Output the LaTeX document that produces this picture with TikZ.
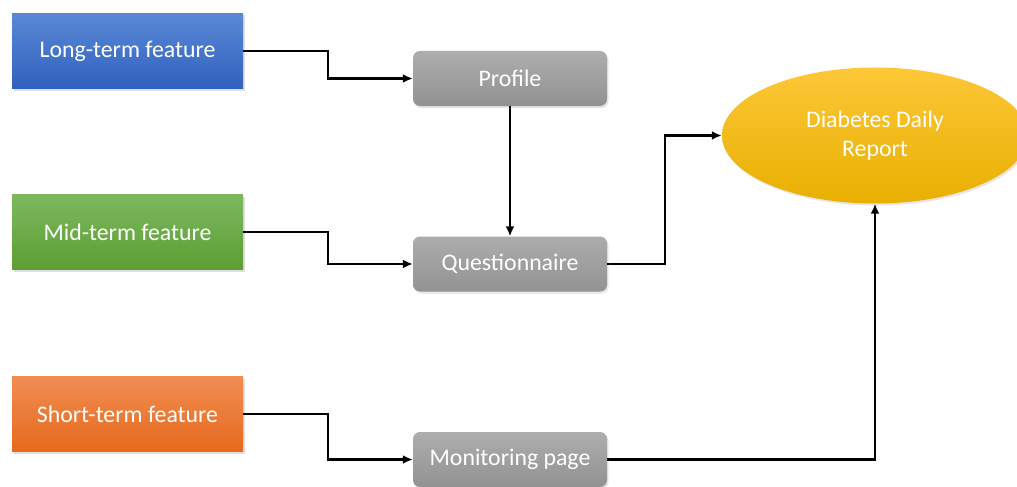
\documentclass[tikz,border=0pt]{standalone}
\usepackage{fontspec}
\setmainfont{Carlito}
\usetikzlibrary{shapes.geometric,arrows.meta,shadows}
\definecolor{bluetop}{HTML}{5B88D6}
\definecolor{bluebot}{HTML}{2F62BE}
\definecolor{greentop}{HTML}{7DB85F}
\definecolor{greenbot}{HTML}{5C9E33}
\definecolor{orangetop}{HTML}{F18D53}
\definecolor{orangebot}{HTML}{E6691C}
\definecolor{greytop}{HTML}{ADADAD}
\definecolor{greybot}{HTML}{929292}
\definecolor{yellowtop}{HTML}{FDC738}
\definecolor{yellowbot}{HTML}{E8B000}
\tikzset{
  feat/.style={rectangle, minimum width=231pt, minimum height=75pt, inner sep=0pt,
    text=white, font=\fontsize{23.8}{28}\selectfont,
    drop shadow={opacity=0.25, shadow xshift=1.5pt, shadow yshift=-2pt}},
  proc/.style={rectangle, rounded corners=7pt, minimum width=194pt, minimum height=55pt, inner sep=0pt,
    top color=greytop, bottom color=greybot, text=white, font=\fontsize{23.8}{28}\selectfont,
    drop shadow={opacity=0.2, shadow xshift=1.5pt, shadow yshift=-2pt}},
  rep/.style={ellipse, minimum width=306pt, minimum height=136pt, inner sep=0pt,
    top color=yellowtop, bottom color=yellowbot, text=white, align=center,
    font=\fontsize{23.8}{29}\selectfont,
    drop shadow={opacity=0.2, shadow xshift=1.5pt, shadow yshift=-2pt}},
  conn/.style={line width=2.8pt, -{Latex[length=10pt,width=9pt]}}
}
\begin{document}
\begin{tikzpicture}[x=1pt,y=-1pt]
\clip (0,0) rectangle (1017,487);
\fill[white] (0,0) rectangle (1017,487);
\node[feat, top color=bluetop, bottom color=bluebot] (long) at (127.5,51) {Long-term feature};
\node[feat, top color=greentop, bottom color=greenbot] (mid) at (127.5,232) {Mid-term feature};
\node[feat, top color=orangetop, bottom color=orangebot] (short) at (127.5,414) {Short-term feature};
\node[proc] (profile) at (510,78.5) {Profile};
\node[proc] (quest) at (510,264) {Questionnaire};
\node[proc] (monitor) at (510,459.5) {Monitoring page};
\node[rep] (report) at (875,135.5) {\raisebox{-2pt}{Diabetes Daily}\\\raisebox{-2pt}{Report}};
\draw[conn] (long.east) -| (328,78.5) -- (profile.west);
\draw[conn] (mid.east) -| (328,264) -- (quest.west);
\draw[conn] (short.east) -| (328,459.5) -- (monitor.west);
\draw[conn] (profile.south) -- (quest.north);
\draw[conn] (quest.east) -| (665,135.5) -- (report.west);
\draw[conn] (monitor.east) -| (report.south);
\end{tikzpicture}
\end{document}
